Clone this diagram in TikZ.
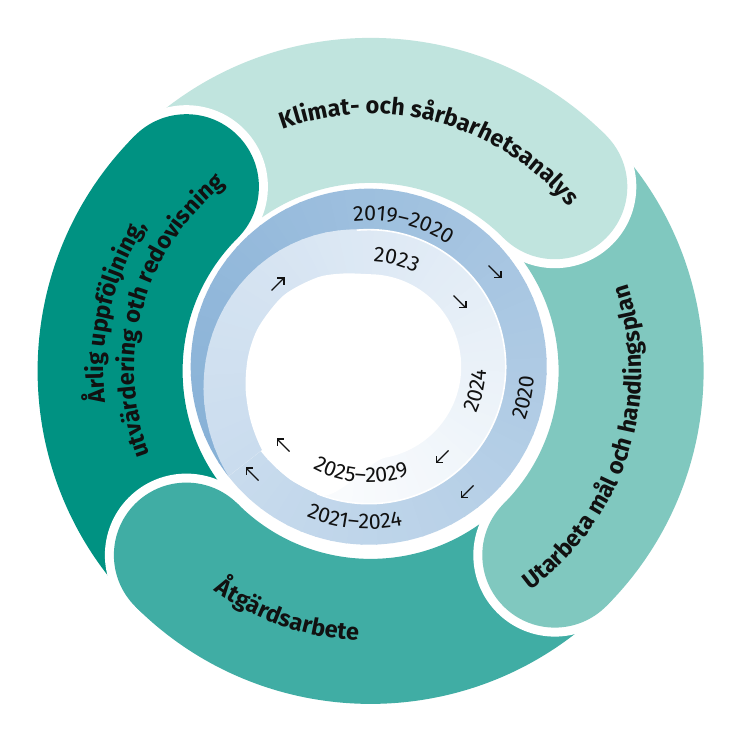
\documentclass[tikz,border=0pt]{standalone}
\usepackage{fontspec}
\setmainfont{Fira Sans}
\newfontfamily\yrfont{Fira Sans}
\newfontfamily\labfontbase{Fira Sans}
\newcommand\labfont{\labfontbase\bfseries}
\usetikzlibrary{decorations.text,arrows.meta,calc}
\definecolor{klim}{HTML}{C0E4DE}
\definecolor{utar}{HTML}{80C8BF}
\definecolor{atg}{HTML}{40ADA4}
\definecolor{arl}{HTML}{009282}
\definecolor{bluedark}{HTML}{86B0D6}
\definecolor{bluelight}{HTML}{C8DBED}
\definecolor{pale}{HTML}{CADCEE}
\definecolor{ink}{HTML}{111111}
\tikzset{
 seglab/.style={decorate, decoration={text along path, text align=center,
   text={|\labfont\fontsize{23.5pt}{23.5pt}\selectfont\color{ink}|#1}}},
 yearlab/.style={decorate, decoration={text along path, text align=center,
   text={|\yrfont\fontsize{21.5pt}{21.5pt}\selectfont\color{ink}|#1}}},
 capborder/.style={draw=white, line width=18pt},
 arrowst/.style={-{Straight Barb[length=4.8pt,width=9.6pt]}, line width=1.3pt, draw=ink},
}
\begin{document}
\begin{tikzpicture}[x=1pt,y=1pt]
\useasboundingbox (0,0) rectangle (738,738);
\fill[white] (0,0) rectangle (738,738);

% ---------- outer segments ----------
\begin{scope}[shift={(370.6pt,367.1pt)}]
 \fill[klim] (135:333pt) arc[start angle=135,end angle=45,radius=333pt] -- (45:188pt) arc[start angle=45,end angle=135,radius=188pt] -- cycle;
 \fill[utar] (45:333pt) arc[start angle=45,end angle=-45,radius=333pt] -- (-45:188pt) arc[start angle=-45,end angle=45,radius=188pt] -- cycle;
 \fill[atg] (-45:333pt) arc[start angle=-45,end angle=-135,radius=333pt] -- (-135:188pt) arc[start angle=-135,end angle=-45,radius=188pt] -- cycle;
 \fill[arl] (-135:333pt) arc[start angle=-135,end angle=-225,radius=333pt] -- (-225:188pt) arc[start angle=-225,end angle=-135,radius=188pt] -- cycle;
 \foreach \t/\c in {45/klim,-45/utar,-135/atg,135/arl}{
   \draw[capborder] (\t:333pt) arc[start angle=\t,end angle=\t-180,radius=72.5pt];
   \fill[\c] (\t:260.5pt) circle[radius=72.5pt];
 }
 % segment labels
 \path[seglab={Klimat- och sårbarhetsanalys}] (144.9:257pt) arc[start angle=144.9,end angle=4.9,radius=257pt];
 \path[seglab={Utarbeta mål och handlingsplan}] (-87.6:271pt) arc[start angle=-87.6,end angle=52.4,radius=271pt];
 \path[seglab={Åtgärdsarbete}] (181:270pt) arc[start angle=181,end angle=321,radius=270pt];
 \path[seglab={Årlig uppföljning,}] (237:267pt) arc[start angle=237,end angle=97,radius=267pt];
 \path[seglab={utvärdering oth redovisning}] (234.3:236pt) arc[start angle=234.3,end angle=94.3,radius=236pt];
\end{scope}

% ---------- inner spiral rings ----------
\begin{scope}[shift={(368.7pt,371.3pt)}]
 % first lap (outer band), conic gradient
 \begin{scope}
  \clip (0,0) circle[radius=178pt];
  \foreach \k in {0,...,71}{
    \pgfmathsetmacro\ta{218-5*\k}
    \pgfmathsetmacro\tb{max(\ta-5.6,-142)}
    \pgfmathsetmacro\pc{100-(\k+0.5)*100/72}
    \fill[bluedark!\pc!bluelight] (0,0) -- (\ta:190pt) arc[start angle=\ta,end angle=\tb,radius=190pt] -- cycle;
  }
 \end{scope}
 % second lap (inner band), conic gradient
 \begin{scope}
  \clip plot[domain=218:90.5,samples=60,variable=\t] ({\t}:{137+41*pow((\t-90)/128,1.2)})
     -- (90:137pt) arc[start angle=90,end angle=-142,radius=137pt] -- cycle;
  \foreach \k in {0,...,71}{
    \pgfmathsetmacro\ta{218-5*\k}
    \pgfmathsetmacro\tb{max(\ta-5.6,-142)}
    \pgfmathsetmacro\pc{100-(\k+0.5)*100/72}
    \fill[pale!\pc!white] (0,0) -- (\ta:190pt) arc[start angle=\ta,end angle=\tb,radius=190pt] -- cycle;
  }
 \end{scope}
 \draw[white, line width=1.6pt] (95:137pt) arc[start angle=95,end angle=-112,radius=137pt];
 % white centre
 \fill[white] plot[smooth] coordinates {(250:137.5pt) (235:137.5pt) (220:136pt) (205:130pt) (190:125pt) (175:121pt) (160:117pt) (140:111pt) (120:103pt) (105:96.5pt) (90:92.5pt)}
     arc[start angle=90,end angle=-80,radius=92.5pt]
     .. controls (-90:95pt) and (-102:133pt) .. (-110:137.5pt) -- cycle;
 % year labels
 \path[yearlab={2019–2020}] (146.4:146pt) arc[start angle=146.4,end angle=6.4,radius=146pt];
 \path[yearlab={2023}] (145.5:105pt) arc[start angle=145.5,end angle=5.5,radius=105pt];
 \path[yearlab={2020}] (-81.3:165.5pt) arc[start angle=-81.3,end angle=58.7,radius=165.5pt];
 \path[yearlab={2024}] (-82.5:117.5pt) arc[start angle=-82.5,end angle=57.5,radius=117.5pt];
 \path[yearlab={2021–2024}] (194.8:162.5pt) arc[start angle=194.8,end angle=334.8,radius=162.5pt];
 \path[yearlab={2025–2029}] (195.8:116pt) arc[start angle=195.8,end angle=335.8,radius=116pt];
\end{scope}

% ---------- arrows ----------
\coordinate (a1s) at (488.5,472.5); \coordinate (a1e) at (501.5,459.5);
\coordinate (a2s) at (453.5,442.5); \coordinate (a2e) at (466.5,429.5);
\coordinate (a3s) at (448.5,287.5); \coordinate (a3e) at (435.5,274.5);
\coordinate (a4s) at (473.5,252.5); \coordinate (a4e) at (460.5,239.5);
\coordinate (a5s) at (258.5,257.5); \coordinate (a5e) at (245.5,270.5);
\coordinate (a6s) at (289.5,286.5); \coordinate (a6e) at (276.5,299.5);
\coordinate (a7s) at (271.5,447.5); \coordinate (a7e) at (284.5,460.5);
\foreach \i in {1,...,7}{\draw[arrowst] (a\i s) -- (a\i e);}
\end{tikzpicture}
\end{document}
